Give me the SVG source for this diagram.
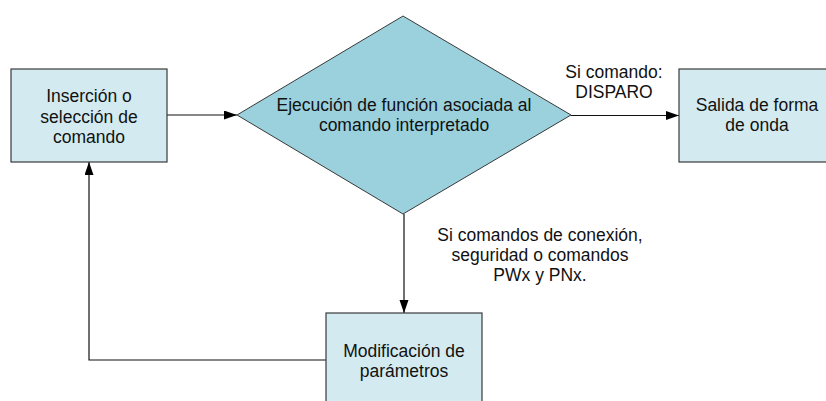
<svg xmlns="http://www.w3.org/2000/svg" width="826" height="401" viewBox="0 0 826 401">
<defs>
<style>
.box{fill:#D3EBF0;stroke:#3a3a3a;stroke-width:1.2}
.dia{fill:#9BD0DD;stroke:#3a3a3a;stroke-width:1}
.t{font-family:"Liberation Sans",Arial,sans-serif;font-size:17.5px;fill:#111;text-anchor:middle}
.c{fill:none;stroke:#111;stroke-width:1.2}
</style>
<marker id="ah" markerWidth="14" markerHeight="10" refX="13" refY="4.5" orient="auto" markerUnits="userSpaceOnUse">
<path d="M0,0 L13,4.5 L0,9 z" fill="#000"/>
</marker>
</defs>
<rect width="826" height="401" fill="#fff"/>
<g id="connectors">
<line class="c" x1="167" y1="115" x2="237" y2="115" marker-end="url(#ah)"/>
<line class="c" x1="571" y1="115.5" x2="679" y2="115.5" marker-end="url(#ah)"/>
<line class="c" x1="404" y1="214" x2="404" y2="313" marker-end="url(#ah)"/>
<polyline class="c" points="326,360 89,360 89,162" marker-end="url(#ah)"/>
<text class="t" x="614" y="77.5">Si comando:</text>
<text class="t" x="614" y="97.5">DISPARO</text>
<text class="t" x="540" y="241">Si comandos de conexión,</text>
<text class="t" x="540" y="261">seguridad o comandos</text>
<text class="t" x="540" y="281">PWx y PNx.</text>
</g>
<g id="insercion">
<rect class="box" x="11" y="69" width="156" height="93"/>
<text class="t" x="89" y="102">Inserción o</text>
<text class="t" x="89" y="122.5">selección de</text>
<text class="t" x="89" y="143">comando</text>
</g>
<g id="ejecucion">
<polygon class="dia" points="237,115 403,16 571,115 403,214"/>
<text class="t" x="404" y="110.5">Ejecución de función asociada al</text>
<text class="t" x="404" y="131">comando interpretado</text>
</g>
<g id="salida">
<rect class="box" x="679" y="69" width="156" height="93"/>
<text class="t" x="757" y="111">Salida de forma</text>
<text class="t" x="757" y="131">de onda</text>
</g>
<g id="modificacion">
<rect class="box" x="326" y="313" width="156" height="93"/>
<text class="t" x="404" y="357">Modificación de</text>
<text class="t" x="404" y="377">parámetros</text>
</g>
</svg>
